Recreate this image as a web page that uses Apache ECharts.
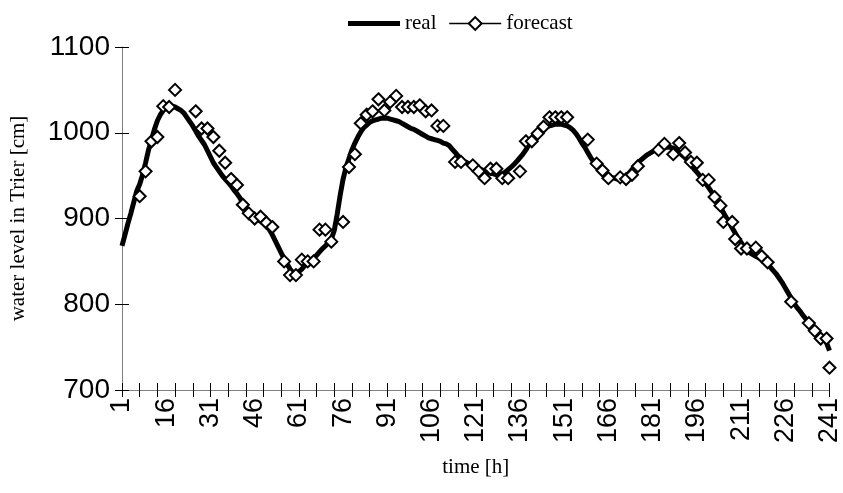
<!DOCTYPE html>
<html>
<head>
<meta charset="utf-8">
<script src="https://cdn.jsdelivr.net/npm/echarts@6/dist/echarts.min.js"></script>
<style>
html,body{margin:0;padding:0;background:#fff;}
#chart{width:843px;height:493px;}
</style>
</head>
<body>
<div id="chart"></div>
<script>
// categories: hours 1..241
var hours = [];
for (var i = 1; i <= 241; i++) { hours.push(String(i)); }

var yTicks = [700, 800, 900, 1000, 1100];

var realValues = [
  868,881,894,906,919,932,940,951,965,980,
  992,1004,1014,1021,1026,1029,1031,1031,1030,1028,
  1026,1023,1018,1013,1008,1002,996,991,986,979,
  972,965,960,955,950,946,942,938,933,929,
  924,918,912,907,903,900,898,897,894,891,
  887,881,874,867,860,853,847,841,837,836,
  838,841,845,848,851,854,857,861,865,868,
  872,876,886,905,927,946,960,970,980,988,
  995,1001,1006,1009,1012,1014,1015,1016,1017,1017,
  1017,1016,1015,1014,1013,1011,1009,1007,1005,1004,
  1002,1000,998,996,994,993,992,991,990,988,
  987,985,981,977,973,970,967,965,963,960,
  959,958,957,955,954,953,952,951,951,952,
  954,957,960,963,967,971,975,980,986,991,
  996,1000,1003,1005,1007,1008,1009,1010,1010,1010,
  1009,1008,1006,1003,999,994,988,983,977,971,
  966,962,958,955,952,950,948,947,946,946,
  947,950,953,957,961,965,968,971,974,976,
  978,980,981,982,983,983,983,982,980,977,
  974,971,967,963,958,954,950,946,941,936,
  931,926,920,914,907,901,895,889,883,877,
  872,867,863,860,858,856,854,852,850,847,
  843,839,835,830,825,819,813,807,801,796,
  792,787,783,779,775,771,767,764,760,755,
  746
];

// forecast points: hour and value
var forecastHours = [
  7,9,11,13,15,17,19,
  26,28,30,32,34,36,38,40,42,44,46,48,50,52,
  56,58,60,62,64,66,68,70,72,76,78,80,
  82,84,86,88,90,92,94,96,98,100,102,104,106,108,110,
  114,116,120,122,124,126,128,130,132,
  136,138,140,142,144,146,148,150,152,
  159,162,164,166,170,172,174,176,
  183,185,188,190,192,194,196,198,200,202,204,205,208,209,211,213,216,218,220,
  228,234,236,238,240,241
];
var forecastValues = [
  926,955,990,995,1031,1030,1050,
  1025,1005,1005,995,979,965,946,939,916,906,900,902,895,890,
  850,834,834,852,850,850,887,887,873,896,960,975,
  1011,1021,1025,1039,1026,1036,1043,1030,1030,1030,1032,1025,1026,1008,1008,
  966,966,962,955,947,958,958,947,947,
  955,990,990,999,1007,1018,1018,1018,1018,
  992,964,956,947,948,946,951,961,
  980,987,975,988,977,966,965,945,945,925,915,896,896,876,865,865,866,856,849,
  803,778,769,760,760,726
];

var forecastData = forecastHours.map(function (h, k) { return [String(h), forecastValues[k]]; });

var chart = echarts.init(document.getElementById('chart'), null, {renderer: 'canvas'});
var serif = '"Liberation Serif", "Times New Roman", serif';
var sans = '"Liberation Sans", Arial, sans-serif';

var option = {
  animation: false,
  backgroundColor: '#fff',
  grid: {left: 122, right: 7, top: 47, bottom: 103, containLabel: false},
  legend: {
    left: 343, top: 8,
    itemWidth: 52, itemHeight: 16, itemGap: 12,
    textStyle: {fontFamily: serif, fontSize: 21, color: '#000'},
    data: [
      {name: 'real', icon: 'path://M0,0L52,0L52,5L0,5Z', itemStyle: {color: '#000', borderWidth: 0}},
      {name: 'forecast', lineStyle: {color: '#000', width: 1.5, opacity: 1, type: 'solid'}}
    ]
  },
  xAxis: [
    {
      type: 'category', data: hours, boundaryGap: false, position: 'bottom',
      name: 'time [h]', nameLocation: 'middle', nameGap: 67,
      nameTextStyle: {fontFamily: serif, fontSize: 21, color: '#000'},
      axisLine: {show: true, lineStyle: {color: '#808080', width: 1}},
      axisTick: {show: true, inside: false, length: 7, lineStyle: {color: '#000', width: 1},
        interval: function (idx) { return idx % 6 === 0; }},
      axisLabel: {show: true, rotate: 90, margin: 8, fontFamily: sans, fontSize: 27, color: '#000',
        interval: function (idx) { return idx % 15 === 0; }},
      splitLine: {show: false}
    },
    {
      type: 'category', data: hours, boundaryGap: false, position: 'bottom',
      axisLine: {show: false},
      axisTick: {show: true, inside: true, length: 7, lineStyle: {color: '#000', width: 1},
        interval: function (idx) { return idx % 6 === 0; }},
      axisLabel: {show: false},
      splitLine: {show: false}
    }
  ],
  yAxis: [
    {
      type: 'value', min: yTicks[0], max: yTicks[yTicks.length - 1], interval: 100, position: 'left',
      name: 'water level in Trier [cm]', nameLocation: 'middle', nameGap: 93, nameRotate: 90,
      nameTextStyle: {fontFamily: serif, fontSize: 21, color: '#000'},
      axisLine: {show: true, lineStyle: {color: '#808080', width: 1}},
      axisTick: {show: true, inside: false, length: 7, lineStyle: {color: '#000', width: 1}},
      axisLabel: {show: true, margin: 12, fontFamily: sans, fontSize: 28, color: '#000',
        formatter: function (v) { return String(v); }},
      splitLine: {show: false}
    },
    {
      type: 'value', min: yTicks[0], max: yTicks[yTicks.length - 1], interval: 100, position: 'left',
      axisLine: {show: false},
      axisTick: {show: true, inside: true, length: 7, lineStyle: {color: '#000', width: 1}},
      axisLabel: {show: false},
      splitLine: {show: false}
    }
  ],
  series: [
    {
      name: 'real', type: 'line', xAxisIndex: 0, yAxisIndex: 0,
      data: realValues, symbol: 'none', smooth: false,
      lineStyle: {color: '#000', width: 5},
      itemStyle: {color: '#000'},
      z: 2
    },
    {
      name: 'forecast', type: 'line', xAxisIndex: 0, yAxisIndex: 0,
      data: forecastData,
      symbol: 'diamond', symbolSize: 12, showAllSymbol: true,
      lineStyle: {color: '#000', width: 0, opacity: 0},
      itemStyle: {color: '#fff', borderColor: '#000', borderWidth: 2},
      z: 3
    }
  ]
};
chart.setOption(option);
</script>
</body>
</html>
